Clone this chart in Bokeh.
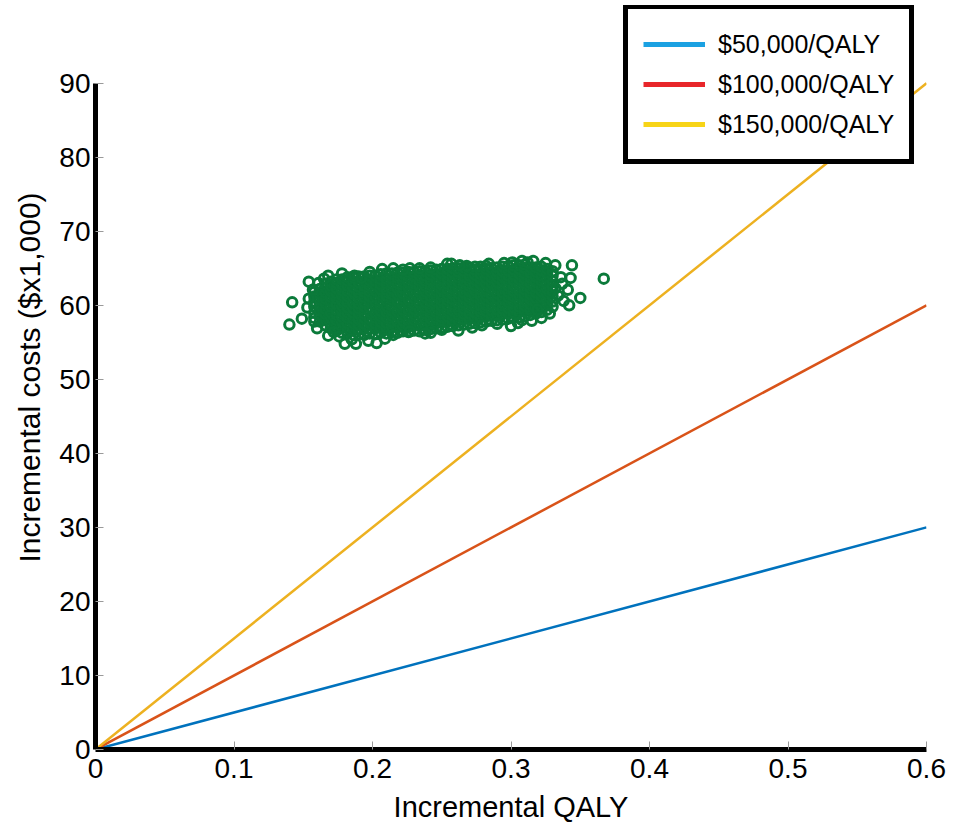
from bokeh.plotting import figure
from bokeh.models import Range1d, Legend, LegendItem, FixedTicker, ColumnDataSource
from bokeh.embed import file_html
from bokeh.resources import INLINE

# ---------------- data ----------------
qaly_range = [0.0, 0.6]
wtp_thresholds = [50, 100, 150]          # $1,000 per QALY
wtp_labels = ["$50,000/QALY", "$100,000/QALY", "$150,000/QALY"]

x_ticks = [0, 0.1, 0.2, 0.3, 0.4, 0.5, 0.6]
y_ticks = [0, 10, 20, 30, 40, 50, 60, 70, 80, 90]

# dense core of the simulation cloud, read column by column (QALY, [costs])
cloud_columns = [
    (0.158, [58.3, 59.0, 59.8, 60.5, 61.2, 61.8]),
    (0.162, [57.8, 58.6, 59.3, 60.0, 60.8, 61.5, 62.2]),
    (0.166, [57.3, 58.0, 58.8, 59.5, 60.2, 60.9, 61.7, 62.4, 62.9]),
    (0.170, [56.9, 57.6, 58.3, 59.0, 59.8, 60.5, 61.1, 61.9, 62.6, 63.2]),
    (0.174, [56.6, 57.2, 58.0, 58.7, 59.4, 60.1, 60.9, 61.6, 62.3, 63.0, 63.5]),
    (0.178, [56.3, 57.0, 57.7, 58.4, 59.2, 59.9, 60.6, 61.3, 62.0, 62.8, 63.5]),
    (0.182, [56.2, 56.9, 57.5, 58.3, 59.0, 59.7, 60.4, 61.2, 61.9, 62.6, 63.3, 63.8]),
    (0.186, [56.0, 56.8, 57.6, 58.2, 59.0, 59.6, 60.3, 61.1, 61.8, 62.4, 63.2, 63.8]),
    (0.190, [56.1, 56.7, 57.4, 58.1, 58.9, 59.6, 60.2, 61.0, 61.7, 62.5, 63.1, 63.9]),
    (0.194, [56.0, 56.9, 57.5, 58.3, 58.9, 59.8, 60.4, 61.1, 61.8, 62.6, 63.3, 63.9]),
    (0.198, [56.2, 56.8, 57.6, 58.2, 59.1, 59.7, 60.5, 61.2, 61.9, 62.7, 63.4, 64.0]),
    (0.202, [56.1, 56.9, 57.5, 58.3, 59.0, 59.8, 60.6, 61.2, 62.0, 62.7, 63.3, 64.0]),
    (0.206, [56.3, 57.0, 57.7, 58.5, 59.2, 59.9, 60.6, 61.4, 62.1, 62.8, 63.5, 64.2]),
    (0.210, [56.2, 57.0, 57.6, 58.4, 59.1, 59.9, 60.7, 61.3, 62.1, 62.9, 63.6, 64.3]),
    (0.214, [56.4, 57.1, 57.8, 58.6, 59.3, 60.0, 60.8, 61.5, 62.2, 62.9, 63.6, 64.3]),
    (0.218, [56.3, 57.0, 57.8, 58.5, 59.2, 60.1, 60.7, 61.5, 62.3, 63.0, 63.7, 64.4]),
    (0.222, [56.5, 57.2, 57.9, 58.7, 59.4, 60.1, 60.9, 61.6, 62.3, 63.1, 63.8, 64.4]),
    (0.226, [56.4, 57.1, 57.9, 58.6, 59.4, 60.2, 60.8, 61.7, 62.4, 63.1, 63.9, 64.5]),
    (0.230, [56.6, 57.3, 58.0, 58.8, 59.5, 60.2, 61.0, 61.7, 62.5, 63.2, 63.9, 64.5]),
    (0.234, [56.5, 57.3, 58.1, 58.8, 59.5, 60.3, 61.0, 61.8, 62.5, 63.3, 64.0, 64.6]),
    (0.238, [56.7, 57.4, 58.2, 58.9, 59.7, 60.4, 61.1, 61.9, 62.6, 63.3, 64.0, 64.6]),
    (0.242, [56.8, 57.5, 58.2, 59.0, 59.7, 60.5, 61.2, 61.9, 62.7, 63.4, 64.1, 64.7]),
    (0.246, [56.9, 57.6, 58.3, 59.1, 59.8, 60.5, 61.3, 62.0, 62.8, 63.5, 64.2, 64.8]),
    (0.250, [57.0, 57.7, 58.4, 59.2, 59.9, 60.6, 61.4, 62.1, 62.8, 63.6, 64.3, 64.9]),
    (0.254, [57.1, 57.8, 58.5, 59.3, 60.0, 60.7, 61.5, 62.2, 62.9, 63.7, 64.4, 64.9]),
    (0.258, [57.2, 57.9, 58.6, 59.3, 60.1, 60.8, 61.5, 62.3, 63.0, 63.7, 64.4, 65.0]),
    (0.262, [57.3, 58.0, 58.7, 59.4, 60.2, 60.9, 61.6, 62.4, 63.1, 63.8, 64.5, 65.0]),
    (0.266, [57.4, 58.1, 58.8, 59.5, 60.3, 61.0, 61.7, 62.5, 63.2, 63.9, 64.6, 65.1]),
    (0.270, [57.5, 58.2, 58.9, 59.7, 60.4, 61.1, 61.9, 62.6, 63.3, 64.0, 64.7, 65.1]),
    (0.274, [57.6, 58.3, 59.0, 59.8, 60.5, 61.2, 62.0, 62.7, 63.4, 64.1, 64.8, 65.2]),
    (0.278, [57.7, 58.4, 59.1, 59.9, 60.6, 61.3, 62.1, 62.8, 63.5, 64.2, 64.8, 65.2]),
    (0.282, [57.8, 58.5, 59.2, 60.0, 60.7, 61.4, 62.2, 62.9, 63.6, 64.3, 64.9, 65.3]),
    (0.286, [57.9, 58.6, 59.3, 60.1, 60.8, 61.5, 62.3, 63.0, 63.7, 64.4, 65.0]),
    (0.290, [58.0, 58.7, 59.4, 60.2, 60.9, 61.6, 62.4, 63.1, 63.8, 64.5, 65.1]),
    (0.294, [58.1, 58.8, 59.5, 60.3, 61.0, 61.7, 62.5, 63.2, 63.9, 64.6, 65.2]),
    (0.298, [58.2, 58.9, 59.6, 60.4, 61.1, 61.8, 62.6, 63.3, 64.0, 64.7, 65.3]),
    (0.302, [58.3, 59.0, 59.7, 60.5, 61.2, 61.9, 62.7, 63.4, 64.1, 64.8, 65.4]),
    (0.306, [58.4, 59.1, 59.8, 60.6, 61.3, 62.0, 62.8, 63.5, 64.2, 64.9, 65.4]),
    (0.310, [58.5, 59.2, 59.9, 60.7, 61.4, 62.1, 62.9, 63.6, 64.3, 65.0, 65.5]),
    (0.314, [58.7, 59.4, 60.1, 60.8, 61.5, 62.3, 63.0, 63.7, 64.4, 65.1]),
    (0.318, [58.9, 59.6, 60.3, 61.0, 61.7, 62.4, 63.1, 63.8, 64.5, 65.1]),
    (0.322, [59.1, 59.8, 60.5, 61.2, 61.9, 62.6, 63.3, 64.0, 64.7, 65.2]),
    (0.326, [59.4, 60.1, 60.8, 61.5, 62.2, 62.9, 63.6, 64.3, 64.9]),
    (0.330, [59.8, 60.5, 61.2, 61.9, 62.6, 63.3, 64.0, 64.6]),
]

# scattered simulations around the rim of the cloud
edge_qaly = [0.154, 0.142, 0.140, 0.149, 0.154, 0.153, 0.168, 0.168, 0.180, 0.188,
             0.187, 0.192, 0.203, 0.207, 0.215, 0.215, 0.227, 0.234, 0.242, 0.227,
             0.242, 0.250, 0.254, 0.257, 0.262, 0.268, 0.279, 0.290, 0.300, 0.301,
             0.308, 0.316, 0.308, 0.315, 0.319, 0.332, 0.344, 0.336, 0.343, 0.337,
             0.341, 0.332, 0.350, 0.342, 0.338, 0.367, 0.157, 0.158, 0.161, 0.172,
             0.185, 0.197, 0.178, 0.198, 0.222, 0.263, 0.284, 0.295, 0.312, 0.325,
             0.328, 0.334, 0.160, 0.165, 0.176, 0.209, 0.238, 0.272, 0.305, 0.322]
edge_cost = [63.2, 60.4, 57.4, 58.2, 60.9, 59.7, 64.0, 55.9, 54.8, 54.8,
             64.0, 63.7, 54.9, 64.9, 65.0, 56.0, 65.0, 65.0, 65.1, 56.5,
             56.3, 56.7, 65.6, 65.6, 56.6, 65.3, 57.3, 57.5, 57.2, 65.8,
             66.0, 66.0, 58.0, 57.9, 59.4, 65.4, 65.4, 63.8, 63.7, 62.9,
             62.1, 62.3, 61.0, 60.0, 60.6, 63.6, 62.1, 57.8, 63.0, 56.4,
             55.4, 55.2, 64.3, 64.5, 64.8, 65.4, 65.6, 65.7, 65.8, 65.7,
             58.9, 61.3, 56.9, 63.6, 55.8, 55.5, 56.2, 57.0, 57.6, 58.3]

# ---------------- styling ----------------
FONT = "Liberation Sans"
line_colors = ["#0072BD", "#D95319", "#EDB120"]
legend_colors = ["#1BA1E2", "#E8262A", "#F7D417"]
cloud_color = "#0B7A3A"

cloud_x = [c[0] for c in cloud_columns for _ in c[1]] + edge_qaly
cloud_y = [y for c in cloud_columns for y in c[1]] + edge_cost

p = figure(width=966, height=826, output_backend="svg", toolbar_location=None,
           x_range=Range1d(0, 0.6), y_range=Range1d(0, 100.5),
           min_border_left=95, min_border_right=40, min_border_top=5,
           min_border_bottom=77)
p.outline_line_color = None
p.grid.visible = False
p.background_fill_color = "white"
p.border_fill_color = "white"

# threshold lines
for wtp, col in zip(wtp_thresholds, line_colors):
    p.line(qaly_range, [wtp * q for q in qaly_range], line_color=col, line_width=2.5)

# simulations
src = ColumnDataSource(dict(x=cloud_x, y=cloud_y))
p.scatter("x", "y", source=src, marker="circle", size=9.5, fill_color=None,
          line_color=cloud_color, line_width=3)

# legend renderers: off-range stand-ins that only provide the legend glyphs
leg_items = []
off = [qaly_range[0] - 1, qaly_range[0] - 1]
for lab, col in zip(wtp_labels, legend_colors):
    r = p.line(off, off, line_color=col, line_width=5)
    leg_items.append(LegendItem(label=lab, renderers=[r]))

legend = Legend(items=leg_items, location=(528, 585), orientation="vertical",
                padding=15, spacing=0, label_height=40, glyph_height=40,
                glyph_width=62, label_standoff=13, margin=0,
                label_text_font=FONT, label_text_font_size="25px",
                label_text_color="black",
                border_line_color="black", border_line_width=5, border_line_alpha=1,
                background_fill_color="white", background_fill_alpha=1)
p.add_layout(legend)

# axes
for ax in (p.xaxis[0], p.yaxis[0]):
    ax.axis_line_width = 5
    ax.axis_line_color = "black"
    ax.major_tick_in = 8
    ax.major_tick_out = 0
    ax.major_tick_line_color = "#9a9a9a"
    ax.major_tick_line_width = 1
    ax.minor_tick_line_color = None
    ax.major_label_text_font = FONT
    ax.major_label_text_font_size = "28px"
    ax.major_label_text_color = "black"
    ax.axis_label_text_font = FONT
    ax.axis_label_text_font_size = "29px"
    ax.axis_label_text_font_style = "normal"
    ax.axis_label_text_color = "black"

p.yaxis.axis_label_text_font_size = "30px"
p.xaxis.ticker = FixedTicker(ticks=x_ticks)
p.yaxis.ticker = FixedTicker(ticks=y_ticks)
p.yaxis.bounds = (0, 90)
p.xaxis.major_label_overrides = {0: "0"}
p.xaxis.axis_label = "Incremental QALY"
p.yaxis.axis_label = "Incremental costs ($x1,000)"
p.xaxis.major_label_standoff = 9
p.xaxis.axis_label_standoff = 10
p.yaxis.major_label_standoff = 5
p.yaxis.axis_label_standoff = 10

open("out.html", "w").write(file_html(p, INLINE))
